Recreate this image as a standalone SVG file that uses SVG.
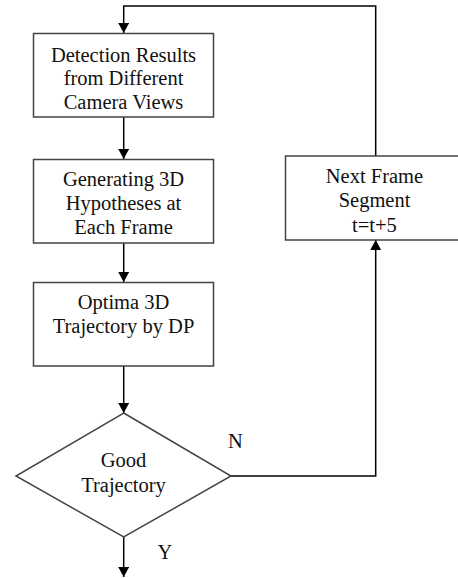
<svg xmlns="http://www.w3.org/2000/svg" width="458" height="578" viewBox="0 0 458 578">
<style>
.box{fill:#fff;stroke:#444;stroke-width:1.5}
.ln{fill:none;stroke:#000;stroke-width:1.5}
.t{font-family:'Liberation Serif','Times New Roman','DejaVu Serif',serif;font-size:20.5px;fill:#111;text-anchor:middle}
</style>
<defs>
<marker id="ah" markerWidth="11" markerHeight="11" refX="10" refY="5.5" orient="auto" markerUnits="userSpaceOnUse">
<path d="M0,0 L10,5.5 L0,11 Z" fill="#000"/>
</marker>
</defs>
<rect width="458" height="578" fill="#fff"/>
<g id="connectors">
<path class="ln" d="M375.7,156 V6 H123.7 V33" marker-end="url(#ah)"/>
<path class="ln" d="M123.7,117 V159" marker-end="url(#ah)"/>
<path class="ln" d="M123.7,243 V282" marker-end="url(#ah)"/>
<path class="ln" d="M123.7,366 V413" marker-end="url(#ah)"/>
<path class="ln" d="M123.7,537 V577" marker-end="url(#ah)"/>
<path class="ln" d="M231,476 H375.7 V240" marker-end="url(#ah)"/>
<text class="t" font-family="Liberation Serif, serif" x="235.5" y="447.5">N</text>
<text class="t" font-family="Liberation Serif, serif" x="165" y="559">Y</text>
</g>
<g id="detection" class="t" font-family="Liberation Serif, serif">
<rect class="box" x="33.5" y="33.5" width="180" height="83.5"/>
<text x="123.5" y="62">Detection Results</text>
<text x="123.5" y="85.3">from Different</text>
<text x="123.5" y="108.5">Camera Views</text>
</g>
<g id="generating" class="t" font-family="Liberation Serif, serif">
<rect class="box" x="33.5" y="159.5" width="180" height="83.5"/>
<text x="123.5" y="186.3">Generating 3D</text>
<text x="123.5" y="210.3">Hypotheses at</text>
<text x="123.5" y="234.3">Each Frame</text>
</g>
<g id="optima" class="t" font-family="Liberation Serif, serif">
<rect class="box" x="33.5" y="282.5" width="180" height="83.5"/>
<text x="123.5" y="309">Optima 3D</text>
<text x="123.5" y="332.7">Trajectory by DP</text>
</g>
<g id="decision" class="t" font-family="Liberation Serif, serif">
<polygon class="box" points="123.7,413 231,476 123.7,537 16,476"/>
<text x="123.5" y="467.3">Good</text>
<text x="123.5" y="491.7">Trajectory</text>
</g>
<g id="next" class="t" font-family="Liberation Serif, serif">
<rect class="box" x="285.5" y="156" width="180" height="84"/>
<text x="374.5" y="182.7">Next Frame</text>
<text x="374.5" y="206.5">Segment</text>
<text x="374.5" y="231.7">t=t+5</text>
</g>
</svg>
